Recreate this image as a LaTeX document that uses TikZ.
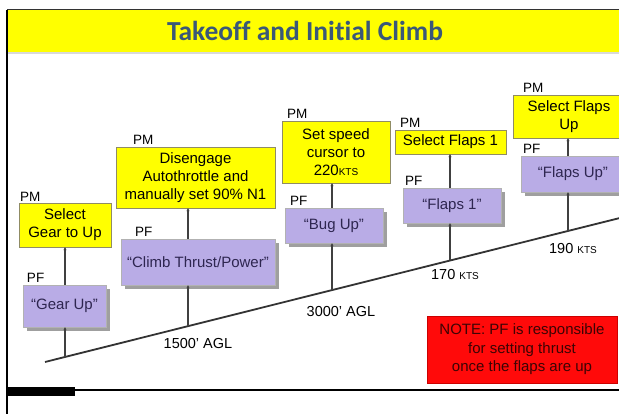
\documentclass[tikz,border=0pt]{standalone}
\usepackage{fontspec}
\setmainfont{Liberation Sans}
\newfontfamily\titlefont[Ligatures=NoCommon]{Carlito}
\usetikzlibrary{arrows.meta, positioning, shadows}
\definecolor{bandyellow}{HTML}{FFFF00}
\definecolor{titleblue}{HTML}{3A5878}
\definecolor{pflavender}{HTML}{B9ACE6}
\definecolor{pftext}{HTML}{2E2650}
\definecolor{notered}{HTML}{FF0A0A}
\definecolor{notetext}{HTML}{3C0404}
\newcommand{\kts}{{\fontsize{10}{12}\selectfont KTS}}

\begin{document}
\begin{tikzpicture}[
    x=1pt, y=1pt,
    every node/.style={font=\fontsize{15}{18}\selectfont},
    pmbox/.style={rectangle, draw=gray!70!olive, fill=bandyellow, inner sep=0pt, align=center, minimum width=#1},
    pfbox/.style={rectangle, draw=gray!60, fill=pflavender, text=pftext, inner sep=0pt, align=center, minimum width=#1,
        general shadow={fill=gray!75, shadow xshift=4pt, shadow yshift=-4pt}},
    tag/.style={inner sep=0pt, font=\fontsize{13.5}{15}\selectfont},
    alt/.style={inner sep=0pt, font=\fontsize{14.5}{16}\selectfont},
    stem/.style={-{Stealth[length=3pt, width=3pt]}, line width=1.3pt, draw=black!75},
]
\useasboundingbox (0,0) rectangle (619,414);

% Title band
\fill[bandyellow] (7,362) rectangle (619,404);
\draw[black!80, line width=1pt] (7,404) -- (619,404);
\draw[black!15, line width=1.5pt] (7,361) -- (619,361);
\node[font=\titlefont\bfseries\fontsize{27.5}{30}\selectfont, text=titleblue] (title) at (305,383) {Takeoff and Initial Climb};

% Frame
\draw[black, line width=1.3pt] (7,404) -- (7,0);
\draw[black, line width=1.3pt] (7,24) -- (619,24);
\fill[black] (7,18) rectangle (75,27);

% Climb profile
\coordinate (s0) at (45,52);
\coordinate (s1) at (625,197.3);
\draw[line width=1.8pt, black!80] (s0) -- (s1);
\coordinate (p1) at (65,57);
\coordinate (p2) at (188,87.8);
\coordinate (p3) at (332,123.9);
\coordinate (p4) at (450,153.5);
\coordinate (p5) at (568,183);

% PF calls
\node[pfbox=83pt, minimum height=42pt] (gearup) at (64.5,108) {“Gear Up”};
\node[pfbox=154pt, minimum height=46pt] (climb) at (198,152) {“Climb Thrust/Power”};
\node[pfbox=98pt, minimum height=35pt] (bugup) at (334,188.5) {“Bug Up”};
\node[pfbox=98pt, minimum height=35pt] (flapsone) at (452,208.5) {“Flaps 1”};
\node[pfbox=104pt, minimum height=36pt] (flapsup) at (573,240) {“Flaps Up”};

% PM actions
\node[pmbox=92pt, minimum height=44pt] (selgear) at (65,189) {Select\\Gear to Up};
\node[pmbox=159pt, minimum height=61pt] (disengage) at (195.5,236.5) {Disengage\\Autothrottle and\\manually set 90\% N1};
\node[pmbox=108pt, minimum height=62pt] (setspeed) at (336,262) {Set speed\\cursor to\\220\kts};
\node[pmbox=111pt, minimum height=24pt] (selflapsone) at (450.5,272) {Select Flaps 1};
\node[pmbox=112pt, minimum height=43pt] (selflapsup) at (569,297.5) {Select Flaps\\Up};

% PF / PM tags
\node[tag, above right=2pt and 4pt of gearup.north west] (pfa) {PF};
\node[tag, above right=2pt and 14pt of climb.north west] (pfb) {PF};
\node[tag, above right=2pt and 5pt of bugup.north west] (pfc) {PF};
\node[tag, above right=2pt and 2pt of flapsone.north west] (pfd) {PF};
\node[tag, above right=2pt and 2pt of flapsup.north west] (pfe) {PF};
\node[tag, above right=1pt and 1pt of selgear.north west] (pma) {PM};
\node[tag, above right=2pt and 17pt of disengage.north west] (pmb) {PM};
\node[tag, above right=2pt and 5pt of setspeed.north west] (pmc) {PM};
\node[tag, above right=2pt and 5pt of selflapsone.north west] (pmd) {PM};
\node[tag, above right=2pt and 10pt of selflapsup.north west] (pme) {PM};

% Stems
\draw[stem] (p1) -- (p1 |- gearup.south);
\draw[stem] (gearup.north -| p1) -- (p1 |- selgear.south);
\draw[stem] (p2) -- (p2 |- climb.south);
\draw[stem] (climb.north -| p2) -- (p2 |- disengage.south);
\draw[stem] (p3) -- (p3 |- bugup.south);
\draw[stem] (bugup.north -| p3) -- (p3 |- setspeed.south);
\draw[stem] (p4) -- (p4 |- flapsone.south);
\draw[stem] (flapsone.north -| p4) -- (p4 |- selflapsone.south);
\draw[stem] (p5) -- (p5 |- flapsup.south);
\draw[stem] (flapsup.north -| p5) -- (p5 |- selflapsup.south);

% Altitudes and speeds
\node[alt] (agla) at (198,70) {1500’ AGL};
\node[alt] (aglb) at (341,102) {3000’ AGL};
\node[alt] (ktsa) at (455,139) {170 \kts};
\node[alt] (ktsb) at (573,165) {190 \kts};

% Note
\node[rectangle, fill=notered, draw=red!80!black, text=notetext, inner sep=0pt, minimum width=190pt, minimum height=67pt, align=center,
    font=\fontsize{15}{18.5}\selectfont] (note) at (522,64.5) {NOTE: PF is responsible\\for setting thrust\\once the flaps are up};

\end{tikzpicture}
\end{document}
